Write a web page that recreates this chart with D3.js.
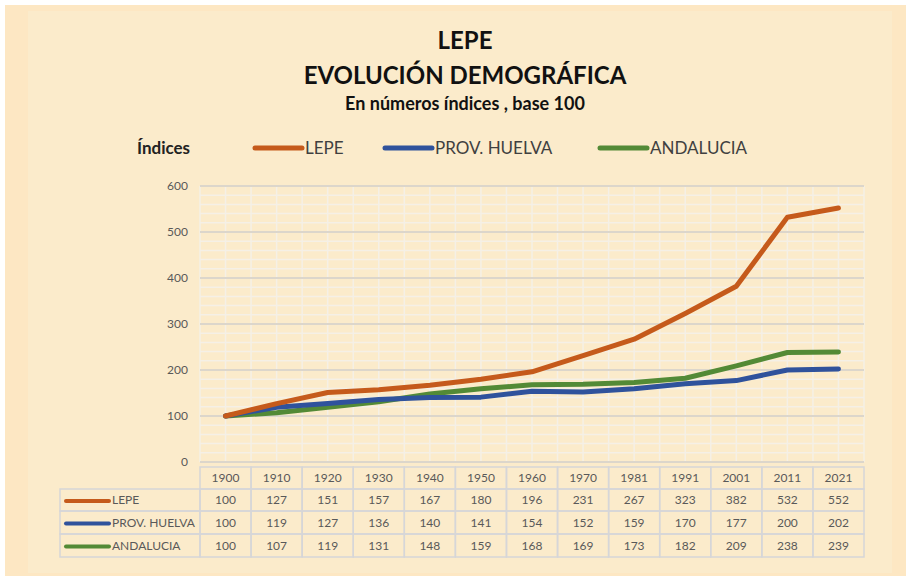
<!DOCTYPE html>
<html>
<head>
<meta charset="utf-8">
<script src="https://cdn.jsdelivr.net/npm/d3@7"></script>
<style>
  body { margin: 0; background: #fff; }
  svg { display: block; font-family: Lato, 'Open Sans', sans-serif; }
</style>
</head>
<body>
<div class="chart"></div>
<script>
const width = 906;
const height = 579;

const years = ['1900', '1910', '1920', '1930', '1940', '1950', '1960', '1970', '1981', '1991', '2001', '2011', '2021'];
const seriesNames = ['LEPE', 'PROV. HUELVA', 'ANDALUCIA'];
const lepe = [100, 127, 151, 157, 167, 180, 196, 231, 267, 323, 382, 532, 552];
const huelva = [100, 119, 127, 136, 140, 141, 154, 152, 159, 170, 177, 200, 202];
const andalucia = [100, 107, 119, 131, 148, 159, 168, 169, 173, 182, 209, 238, 239];
const yTicks = [0, 100, 200, 300, 400, 500, 600];

const color = {
  'LEPE': '#c55a1b',
  'PROV. HUELVA': '#2f529c',
  'ANDALUCIA': '#538a36',
  'outer': '#fde7c3',
  'inner': '#fbebcb',
  'major': '#dcd6cb',
  'minor': '#f5f0e6',
  'cell': '#d6d6d8',
  'text': '#595959',
};

const series = [
  { name: seriesNames[0], values: lepe },
  { name: seriesNames[1], values: huelva },
  { name: seriesNames[2], values: andalucia },
];

const plot = { left: 200, right: 864, top: 186, bottom: 462 };

const x = d3.scaleBand()
  .domain(years)
  .range([plot.left, plot.right]);

const y = d3.scaleLinear()
  .domain([0, 600])
  .range([plot.bottom, plot.top]);

const svg = d3.select('.chart')
  .append('svg')
    .attr('width', width)
    .attr('height', height);

// backgrounds
svg.append('rect')
  .attr('x', 5).attr('y', 5)
  .attr('width', width - 5).attr('height', height - 8)
  .attr('fill', color.outer);

svg.append('rect')
  .attr('x', 28).attr('y', 11)
  .attr('width', 864).attr('height', 562)
  .attr('fill', color.inner);

// titles
svg.append('text')
  .attr('x', 465).attr('y', 49)
  .attr('text-anchor', 'middle')
  .style('font-size', '24px').style('font-weight', 700)
  .attr('fill', '#111')
  .text('LEPE');

svg.append('text')
  .attr('x', 465).attr('y', 84)
  .attr('text-anchor', 'middle')
  .style('font-size', '24px').style('font-weight', 700)
  .attr('fill', '#111')
  .text('EVOLUCIÓN DEMOGRÁFICA');

svg.append('text')
  .attr('x', 465).attr('y', 110)
  .attr('text-anchor', 'middle')
  .style('font-size', '18px').style('font-weight', 700)
  .attr('fill', '#111')
  .text('En números índices , base 100');

svg.append('text')
  .attr('x', 137).attr('y', 154)
  .style('font-size', '17px').style('font-weight', 700)
  .attr('fill', '#222')
  .text('Índices');

// legend
const legendX = [255, 385, 600];
const legend = svg.selectAll('.legend')
  .data(series)
  .join('g')
    .attr('class', 'legend')
    .attr('transform', (d, i) => `translate(${legendX[i]}, 148)`);

legend.append('line')
  .attr('x1', 0).attr('x2', 47)
  .attr('stroke', d => color[d.name])
  .attr('stroke-width', 5)
  .attr('stroke-linecap', 'round');

legend.append('text')
  .attr('x', 50).attr('y', 6)
  .style('font-size', '17px')
  .attr('fill', '#404040')
  .text(d => d.name);

// grid
const minorTicks = d3.range(0, 601, 20).filter(v => v % 100 !== 0);
svg.append('g')
  .selectAll('line')
  .data(minorTicks)
  .join('line')
    .attr('x1', plot.left).attr('x2', plot.right)
    .attr('y1', d => y(d)).attr('y2', d => y(d))
    .attr('stroke', color.minor)
    .attr('stroke-width', 1.5);

const vLines = [];
years.forEach(yr => {
  vLines.push(x(yr));
  vLines.push(x(yr) + x.bandwidth() / 2);
});
vLines.push(plot.right);

svg.append('g')
  .selectAll('line')
  .data(vLines)
  .join('line')
    .attr('x1', d => d).attr('x2', d => d)
    .attr('y1', plot.top).attr('y2', plot.bottom)
    .attr('stroke', color.minor)
    .attr('stroke-width', 1.5);

svg.append('g')
  .selectAll('line')
  .data(yTicks)
  .join('line')
    .attr('x1', plot.left).attr('x2', plot.right)
    .attr('y1', d => y(d)).attr('y2', d => y(d))
    .attr('stroke', color.major)
    .attr('stroke-width', 2);

// y axis labels
const yAxis = svg.append('g')
  .attr('transform', `translate(${plot.left - 12}, 0)`)
  .call(d3.axisLeft(y).tickValues(yTicks).tickSize(0).tickPadding(0));
yAxis.select('.domain').remove();
yAxis.selectAll('text')
  .style('font-family', 'Lato, sans-serif')
  .style('font-size', '12px')
  .attr('fill', color.text);

// lines
const line = d3.line()
  .x((d, i) => x(years[i]) + x.bandwidth() / 2)
  .y(d => y(d));

svg.append('g')
  .selectAll('path')
  .data(series.slice().reverse())
  .join('path')
    .attr('d', d => line(d.values))
    .attr('fill', 'none')
    .attr('stroke', d => color[d.name])
    .attr('stroke-width', 5)
    .attr('stroke-linejoin', 'round')
    .attr('stroke-linecap', 'round');

// data table
const rowTop = [467, 489, 511, 534];
const rowH = [22, 22, 23, 23];
const table = svg.append('g');

// header cells
table.selectAll('.hcell')
  .data(years)
  .join('rect')
    .attr('class', 'hcell')
    .attr('x', d => x(d)).attr('y', rowTop[0])
    .attr('width', x.bandwidth()).attr('height', rowH[0])
    .attr('fill', 'none')
    .attr('stroke', color.cell)
    .attr('stroke-width', 1.5);

table.selectAll('.htext')
  .data(years)
  .join('text')
    .attr('class', 'htext')
    .attr('x', d => x(d) + x.bandwidth() / 2)
    .attr('y', rowTop[0] + rowH[0] / 2 + 4)
    .attr('text-anchor', 'middle')
    .style('font-size', '12px')
    .attr('fill', color.text)
    .text(d => d);

const rows = table.selectAll('.row')
  .data(series)
  .join('g')
    .attr('class', 'row')
    .attr('transform', (d, i) => `translate(0, ${rowTop[i + 1]})`);

rows.append('rect')
  .attr('x', 60).attr('y', 0)
  .attr('width', plot.left - 60).attr('height', (d, i) => rowH[i + 1])
  .attr('fill', 'none')
  .attr('stroke', color.cell)
  .attr('stroke-width', 1.5);

rows.append('line')
  .attr('x1', 66).attr('x2', 109)
  .attr('y1', (d, i) => rowH[i + 1] / 2 + 1).attr('y2', (d, i) => rowH[i + 1] / 2 + 1)
  .attr('stroke', d => color[d.name])
  .attr('stroke-width', 4)
  .attr('stroke-linecap', 'round');

rows.append('text')
  .attr('x', 112).attr('y', (d, i) => rowH[i + 1] / 2 + 4)
  .style('font-size', '12px')
  .attr('fill', color.text)
  .text(d => d.name);

rows.each(function(d, i) {
  const g = d3.select(this);
  g.selectAll('rect.vcell')
    .data(d.values)
    .join('rect')
      .attr('class', 'vcell')
      .attr('x', (v, j) => x(years[j])).attr('y', 0)
      .attr('width', x.bandwidth()).attr('height', rowH[i + 1])
      .attr('fill', 'none')
      .attr('stroke', color.cell)
      .attr('stroke-width', 1.5);
  g.selectAll('text.vtext')
    .data(d.values)
    .join('text')
      .attr('class', 'vtext')
      .attr('x', (v, j) => x(years[j]) + x.bandwidth() / 2)
      .attr('y', rowH[i + 1] / 2 + 4)
      .attr('text-anchor', 'middle')
      .style('font-size', '12px')
      .attr('fill', color.text)
      .text(v => v);
});
</script>
</body>
</html>
